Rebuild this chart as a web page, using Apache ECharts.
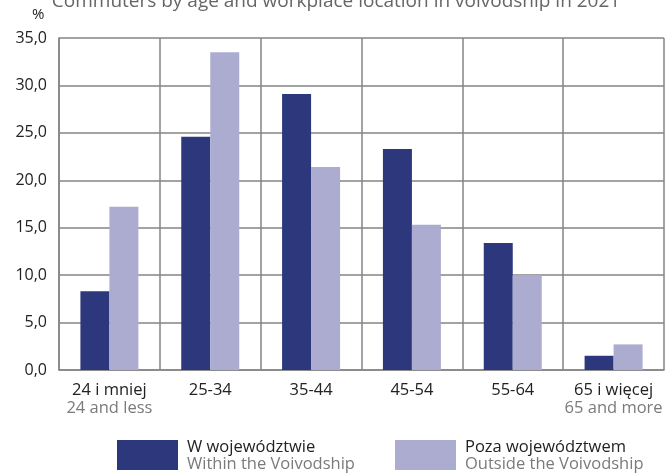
<!DOCTYPE html>
<html><head><meta charset="utf-8">
<script src="https://cdn.jsdelivr.net/npm/echarts@6/dist/echarts.min.js"></script>
<style>html,body{margin:0;padding:0;background:#fff}#c{width:672px;height:474px}</style>
</head><body><div id="c"></div>
<script>
const categoriesPL = ['24 i mniej', '25-34', '35-44', '45-54', '55-64', '65 i więcej'];
const categoriesEN = ['24 and less', '', '', '', '', '65 and more'];
const withinVoivodship = [8.3, 24.6, 29.1, 23.3, 13.4, 1.5];
const outsideVoivodship = [17.2, 33.5, 21.4, 15.3, 10.0, 2.7];
const seriesPL = ['W województwie', 'Poza województwem'];
const seriesEN = ['Within the Voivodship', 'Outside the Voivodship'];
const titleText = 'Commuters by age and workplace location in voivodship in 2021';

const FONT = 'Open Sans';
const dark = '#2c387b';
const light = '#abacd0';
const gridColor = '#858585';

const chart = echarts.init(document.getElementById('c'));
const catIdx = categoriesPL.map((_, i) => String(i));

function legendFor(i, left) {
  return {
    left: left, top: 439, padding: 0,
    data: [seriesPL[i]],
    itemWidth: 61, itemHeight: 30, itemGap: 0,
    icon: 'rect',
    formatter: n => '{a|' + n + '}\n{b|' + seriesEN[seriesPL.indexOf(n)] + '}',
    textStyle: {
      fontFamily: FONT, padding: [2, 0, 0, 4],
      rich: {
        a: {fontSize: 16.5, color: '#222', fontFamily: FONT, lineHeight: 17},
        b: {fontSize: 16.5, color: '#7a7a7a', fontFamily: FONT, lineHeight: 17}
      }
    },
    selectedMode: false
  };
}

chart.setOption({
  animation: false,
  title: {
    text: titleText, left: 'center', top: -13,
    textStyle: {fontFamily: FONT, fontSize: 19, fontWeight: 'normal', color: '#666'}
  },
  graphic: [{
    type: 'text', left: 32, top: 7,
    style: {text: '%', font: '15px ' + FONT, fill: '#222'}
  }],
  legend: [legendFor(0, 117), legendFor(1, 395)],
  grid: {left: 59, right: 8, top: 38, bottom: 104},
  xAxis: {
    type: 'category', data: catIdx,
    axisLine: {show: true, lineStyle: {color: gridColor, width: 1.5}},
    axisTick: {show: false},
    splitLine: {show: true, interval: 0, lineStyle: {color: gridColor, width: 1.5}},
    axisLabel: {
      interval: 0, margin: 11,
      formatter: v => {
        const i = +v;
        return '{a|' + categoriesPL[i] + '}' + (categoriesEN[i] ? '\n{b|' + categoriesEN[i] + '}' : '');
      },
      rich: {
        a: {fontSize: 16.5, color: '#222', fontFamily: FONT, lineHeight: 18},
        b: {fontSize: 16.5, color: '#7a7a7a', fontFamily: FONT, lineHeight: 18}
      }
    }
  },
  yAxis: {
    type: 'value', min: 0, max: 35, interval: 5,
    axisLine: {show: true, lineStyle: {color: gridColor, width: 1.5}},
    axisTick: {show: false},
    splitLine: {lineStyle: {color: gridColor, width: 1.5}},
    axisLabel: {
      margin: 12, fontFamily: FONT, fontSize: 16, color: '#222',
      formatter: v => v.toFixed(1).replace('.', ',')
    }
  },
  series: [
    {name: seriesPL[0], type: 'bar', data: withinVoivodship, barWidth: 29, barGap: '0%',
     itemStyle: {color: dark}},
    {name: seriesPL[1], type: 'bar', data: outsideVoivodship, barWidth: 29, barGap: '0%',
     itemStyle: {color: light}}
  ]
});
</script></body></html>
